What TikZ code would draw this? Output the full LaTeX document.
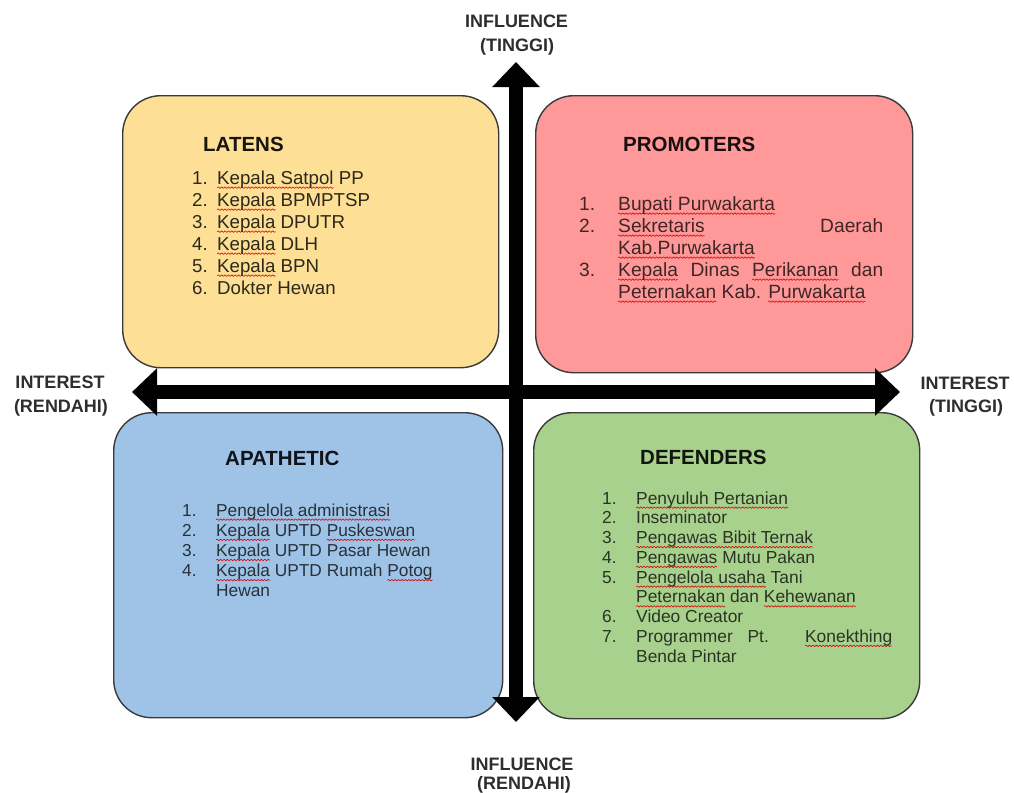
\documentclass[tikz,border=0pt]{standalone}
\usepackage{fontspec}
\setmainfont{Liberation Sans}
\usetikzlibrary{arrows.meta,decorations.pathmorphing}
\definecolor{latY}{HTML}{FDE096}
\definecolor{proR}{HTML}{FF9999}
\definecolor{apaB}{HTML}{9EC3E6}
\definecolor{defG}{HTML}{A9D18E}
\definecolor{edgec}{HTML}{3A3A3A}
\definecolor{axlab}{HTML}{2E2E2E}
\newsavebox\sqbox
\newcommand\sq[1]{\leavevmode\sbox\sqbox{#1}\rlap{\tikz[overlay,x=1pt,y=1pt,baseline=0pt]\draw[red!85!black,line width=0.6pt,line join=round,decorate,decoration={snake,amplitude=0.8pt,segment length=3.4pt}] (0,-3.6) -- (\the\wd\sqbox,-3.6);}\usebox\sqbox}
\newcommand\nb[2]{\makebox[#1][l]{#2}}
\begin{document}
\begin{tikzpicture}[x=1pt,y=-1pt,
  quad/.style={draw=edgec, line width=1.4pt, rounded corners=38pt, anchor=north west, inner sep=0pt},
  ttl/.style={anchor=base west, inner sep=0pt, font=\fontsize{20.5}{24}\selectfont\bfseries},
  itm/.style={anchor=base west, inner sep=0pt},
  latf/.style={itm, text=black!82!latY, font=\fontsize{18.7}{22}\selectfont},
  prof/.style={itm, text=black!75!proR, font=\fontsize{19.2}{22}\selectfont},
  deff/.style={itm, text=black!75!defG, font=\fontsize{17.4}{20}\selectfont},
  apaf/.style={itm, text=black!75!apaB, font=\fontsize{17.3}{20}\selectfont},
  axl/.style={anchor=base, inner sep=0pt, text=axlab, font=\fontsize{18}{22}\selectfont\bfseries},
  bigarrow/.style={line width=14pt, {Triangle[length=25pt,width=46pt]}-{Triangle[length=25pt,width=46pt]}}
]
\fill[white] (0,0) rectangle (1014,792);
\useasboundingbox (0,0) rectangle (1014,792);

% quadrant boxes
\node[quad, fill=latY, minimum width=376pt, minimum height=272pt] (latens) at (122,95) {};
\node[quad, fill=proR, minimum width=377pt, minimum height=277pt] (promoters) at (535,95) {};
\node[quad, fill=apaB, minimum width=389pt, minimum height=305pt] (apathetic) at (113,412) {};
\node[quad, fill=defG, minimum width=386pt, minimum height=306pt] (defenders) at (533,412) {};

% axes
\coordinate (vtop) at (516,62);
\coordinate (vbot) at (516,722);
\coordinate (hleft) at (132,392);
\coordinate (hright) at (900,392);
\draw[bigarrow] (hleft) -- (hright);
\draw[bigarrow] (vtop) -- (vbot);

% axis labels
\node[axl] (inflT1) at (516.5,28) {INFLUENCE};
\node[axl] (inflT2) at (517,52) {(TINGGI)};
\node[axl] (inflB1) at (522,770) {INFLUENCE};
\node[axl] (inflB2) at (524,789) {(RENDAHI)};
\node[axl] (intL1) at (60,388) {INTEREST};
\node[axl] (intL2) at (61,412) {(RENDAHI)};
\node[axl] (intR1) at (965,389) {INTEREST};
\node[axl] (intR2) at (966,412) {(TINGGI)};

% LATENS
\node[ttl, text=black!90!latY] (latT) at (203,151) {LATENS};
\node[latf] (lat1) at (192,184) {\nb{25pt}{1.}\sq{Kepala Satpol} PP};
\node[latf] (lat2) at (192,206) {\nb{25pt}{2.}\sq{Kepala} BPMPTSP};
\node[latf] (lat3) at (192,228) {\nb{25pt}{3.}\sq{Kepala} DPUTR};
\node[latf] (lat4) at (192,250) {\nb{25pt}{4.}\sq{Kepala} DLH};
\node[latf] (lat5) at (192,272) {\nb{25pt}{5.}\sq{Kepala} BPN};
\node[latf] (lat6) at (192,294) {\nb{25pt}{6.}Dokter Hewan};

% PROMOTERS
\node[ttl, text=black!90!proR] (proT) at (623,151) {PROMOTERS};
\node[prof] (pro1) at (579,210) {\nb{39pt}{1.}\sq{Bupati Purwakarta}};
\node[prof] (pro2) at (579,232) {\nb{39pt}{2.}\makebox[265pt][s]{\sq{Sekretaris} Daerah}};
\node[prof] (pro2b) at (618,254) {\sq{Kab.Purwakarta}};
\node[prof] (pro3) at (579,276) {\nb{39pt}{3.}\makebox[265pt][s]{\sq{Kepala} Dinas \sq{Perikanan} dan}};
\node[prof] (pro3b) at (618,298) {\sq{Peternakan} Kab. \sq{Purwakarta}};

% DEFENDERS
\node[ttl, text=black!90!defG] (defT) at (640,464) {DEFENDERS};
\node[deff] (def1) at (602,504) {\nb{34pt}{1.}\sq{Penyuluh Pertanian}};
\node[deff] (def2) at (602,523.75) {\nb{34pt}{2.}Inseminator};
\node[deff] (def3) at (602,543.5) {\nb{34pt}{3.}\sq{Pengawas Bibit Ternak}};
\node[deff] (def4) at (602,563.25) {\nb{34pt}{4.}\sq{Pengawas} Mutu Pakan};
\node[deff] (def5) at (602,583) {\nb{34pt}{5.}\sq{Pengelola usaha} Tani};
\node[deff] (def5b) at (636,602.75) {\sq{Peternakan} dan \sq{Kehewanan}};
\node[deff] (def6) at (602,622.5) {\nb{34pt}{6.}Video Creator};
\node[deff] (def7) at (602,642.25) {\nb{34pt}{7.}\makebox[256pt][s]{Programmer Pt. \sq{Konekthing}}};
\node[deff] (def7b) at (636,662) {Benda Pintar};

% APATHETIC
\node[ttl, text=black!90!apaB] (apaT) at (225,465) {APATHETIC};
\node[apaf] (apa1) at (182,516) {\nb{34pt}{1.}\sq{Pengelola administrasi}};
\node[apaf] (apa2) at (182,536.2) {\nb{34pt}{2.}\sq{Kepala} UPTD \sq{Puskeswan}};
\node[apaf] (apa3) at (182,556.4) {\nb{34pt}{3.}\sq{Kepala} UPTD Pasar Hewan};
\node[apaf] (apa4) at (182,576.6) {\nb{34pt}{4.}\sq{Kepala} UPTD Rumah \sq{Potog}};
\node[apaf] (apa4b) at (216,596.8) {Hewan};
\end{tikzpicture}
\end{document}
